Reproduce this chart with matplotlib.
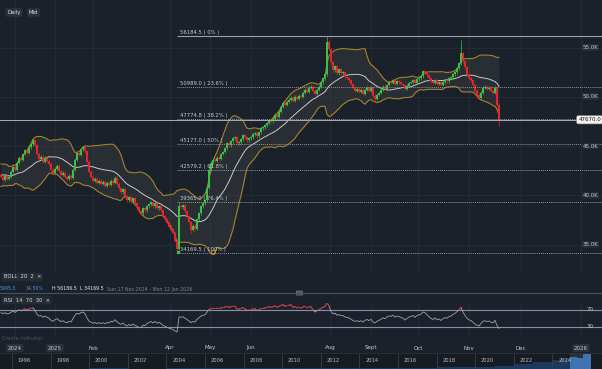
import numpy as np
import pandas as pd
import matplotlib
matplotlib.use("Agg")
import matplotlib.pyplot as plt
from matplotlib.lines import Line2D
from matplotlib.patches import FancyBboxPatch
from matplotlib.transforms import blended_transform_factory as blend

W, H = 602, 369
BG = "#1b212a"
GREEN = "#3cbf46"
RED = "#e5252c"
TXT = "#c5c9cf"

# closes before the visible window, only used to seed the bands and RSI
warmup_close = [41.2, 41.8, 42.6, 43.1, 42.4, 41.6, 41.0, 41.5, 42.3, 43.0,
                42.8, 42.0, 41.4, 41.9, 42.7, 42.2, 41.6, 41.9, 42.1]

# daily closes (thousands), Nov 2024 -> Nov 2025
close_k = [
    41.9, 41.6, 42.0, 41.7, 41.9, 42.4, 42.9, 42.6, 43.3, 43.8,
    43.6, 44.2, 44.6, 44.3, 44.9, 45.2, 45.6, 45.1, 44.2, 43.7,
    43.9, 43.4, 43.8, 43.5, 43.2, 42.6, 42.3, 42.7, 43.0, 42.5,
    42.1, 42.3, 41.9, 41.7, 42.0, 41.8, 42.6, 43.6, 44.3, 44.1,
    44.7, 44.9, 44.5, 43.4, 42.4, 41.9, 41.5, 41.7, 41.3, 41.5,
    41.2, 41.4, 41.0, 41.3, 41.1, 41.5, 41.3, 41.8, 41.2, 40.7,
    40.3, 40.6, 39.9, 39.5, 39.8, 39.4, 39.7, 39.2, 38.8, 38.4,
    38.2, 38.7, 38.5, 38.9, 39.1, 39.3, 38.9, 39.2, 38.7, 38.9,
    38.5, 37.9, 37.6, 37.2, 36.8, 36.5, 36.2, 35.4, 34.6, 38.9,
    38.8, 39.0, 38.4, 37.9, 37.3, 36.5, 36.9, 36.6, 37.6, 38.2,
    38.9, 39.2, 39.5, 40.8, 42.6, 43.3, 43.6, 43.5, 43.8, 43.7,
    44.2, 44.4, 44.8, 45.3, 45.1, 45.5, 45.8, 45.9, 45.3, 45.4,
    45.7, 46.1, 45.9, 45.6, 45.8, 45.9, 46.2, 46.3, 46.0, 46.4,
    46.8, 46.9, 47.1, 47.3, 47.6, 47.5, 47.8, 48.2, 48.0, 48.5,
    49.0, 49.4, 49.2, 49.5, 49.7, 49.9, 49.6, 50.0, 49.8, 50.1,
    50.0, 50.4, 50.7, 50.5, 50.9, 51.0, 50.6, 50.3, 50.7, 51.0,
    51.5, 51.9, 52.3, 55.6, 54.8, 53.5, 52.7, 53.1, 52.4, 52.8,
    52.4, 52.5, 52.0, 51.9, 51.7, 51.3, 50.9, 50.6, 50.8, 50.5,
    50.7, 50.3, 50.7, 50.9, 50.6, 50.9, 50.1, 49.8, 50.2, 50.4,
    50.7, 51.0, 50.8, 51.2, 51.5, 51.4, 51.7, 51.3, 51.6, 51.5,
    51.3, 51.2, 50.8, 51.1, 51.4, 51.5, 51.7, 51.4, 51.8, 51.9,
    52.1, 52.6, 52.5, 52.2, 51.9, 51.6, 51.4, 51.7, 51.3, 51.5,
    51.2, 51.5, 51.7, 51.6, 51.9, 52.0, 52.3, 52.5, 52.9, 53.4,
    54.4, 53.6, 53.0, 52.3, 51.9, 51.7, 51.2, 50.6, 50.2, 49.9,
    50.4, 50.9, 51.0, 50.8, 50.9, 50.6, 50.4, 50.9, 49.2, 47.67,
]

# candles whose wicks reach further than the usual small tail
wick_high = {163: 56184.5, 230: 55800.0, 89: 39300.0, 104: 43100.0}
wick_low = {88: 34169.5, 249: 47000.0, 95: 36200.0, 187: 49500.0}

fib_high = 56184.5
fib_low = 34169.5
fib_ratios = [0.0, 0.236, 0.382, 0.5, 0.618, 0.764, 1.0]
fib_labels = ["56184.5 ( 0% )", "50989.0 ( 23.6% )", "47774.8 ( 38.2% )",
              "45177.0 ( 50% )", "42579.2 ( 61.8% )", "39365.0 ( 76.4% )",
              "34169.5 ( 100% )"]
last_price = 47670.0

price_ticks = [35000, 40000, 45000, 50000, 55000]
price_tick_labels = ["35.0K", "40.0K", "45.0K", "50.0K", "55.0K"]

month_labels = ["2024", "2025", "Feb", "Apr", "May", "Jun", "Aug", "Sept",
                "Oct", "Nov", "Dec", "2026"]
month_pos = [7.0, 27.0, 46.0, 84.5, 104.5, 125.0, 164.5, 185.0, 208.5,
             234.0, 260.0, 290.0]
boxed_months = {"2024", "2025", "2026"}

nav_years = [1995, 1998, 2000, 2002, 2004, 2006, 2008, 2010, 2012, 2014,
             2016, 2018, 2019, 2020, 2021, 2022, 2023, 2024, 2024.5, 2025,
             2025.3, 2025.6, 2025.85, 2026]
nav_values = [1, 1.5, 2, 1.5, 2, 3, 2.5, 3, 3.5, 4.5,
              5, 6, 6.5, 7, 12, 16, 24, 33, 36, 42,
              38, 51, 53, 48]
nav_labels = list(range(1996, 2025, 2))

# ---- derived series
full = np.array(warmup_close + close_k) * 1000
nw = len(warmup_close)
closes = full[nw:]
opens = full[nw - 1:-1]
idx = np.arange(len(closes))
highs = np.maximum(opens, closes) + 150
lows = np.minimum(opens, closes) - 150
for k, v in wick_high.items():
    highs[k] = v
for k, v in wick_low.items():
    lows[k] = v

s = pd.Series(full)
bb_mid = s.rolling(20).mean().values[nw:]
bb_sd = s.rolling(20).std(ddof=0).values[nw:]
bb_up = bb_mid + 2 * bb_sd
bb_lo = bb_mid - 2 * bb_sd

d = s.diff()
ag = d.clip(lower=0).ewm(alpha=1 / 14, adjust=False).mean()
al = (-d.clip(upper=0)).ewm(alpha=1 / 14, adjust=False).mean()
rsi = (100 - 100 / (1 + ag / al)).values[nw:]

# ---- figure
fig = plt.figure(figsize=(W / 100, H / 100), dpi=100, facecolor=BG)


def fy(px):
    return 1 - px / H


ax = fig.add_axes([0, fy(272), 1, 272 / H])
ax.set_facecolor(BG)
ax.set_xlim(-0.5, 300.5)
ax.set_ylim(32230, 59820)
ax.set_axis_off()

for p in price_ticks:
    ax.axhline(p, color="#262d37", lw=0.6, zorder=0)
for m in month_pos:
    ax.axvline(m, color="#262d37", lw=0.6, zorder=0)

ax.fill_between(idx, bb_lo, bb_up, color="#3c3f43", alpha=0.45, lw=0, zorder=1)
ax.plot(idx, bb_up, color="#a5822f", lw=0.8, zorder=2)
ax.plot(idx, bb_lo, color="#a5822f", lw=0.8, zorder=2)
ax.plot(idx, bb_mid, color="#c9c9c9", lw=0.7, zorder=2)

cols = np.where(closes >= opens, GREEN, RED)
body_lo = np.minimum(opens, closes)
body_h = np.maximum(np.abs(closes - opens), 40)
ax.vlines(idx, lows, highs, colors=cols, lw=0.5, zorder=3)
ax.bar(idx, body_h, bottom=body_lo, width=0.75, color=cols, lw=0, zorder=4)

fib_levels = [fib_high - r * (fib_high - fib_low) for r in fib_ratios]
for lvl, lab, r in zip(fib_levels, fib_labels, fib_ratios):
    if r == 0.0:
        ax.hlines(lvl, 88, 300.5, color="#9aa0a8", lw=0.8, zorder=5)
    else:
        ax.hlines(lvl, 88, 300.5, color="#8d939c", lw=0.7,
                  linestyles=(0, (1, 1)), zorder=5)
    ax.text(89.5, lvl + 110, lab, fontsize=3.8, color=TXT, va="bottom",
            ha="left", zorder=6)
ax.plot([106], [fib_low + 60], marker="o", ms=3, mfc="none", mec="#d08a1e",
        mew=0.6, zorder=6)
ax.plot([88.5], [fib_low + 60], marker="s", ms=1.6, color=GREEN, zorder=6)

ax.axhline(last_price, color="#a8adb5", lw=0.7, zorder=5)

yt = blend(ax.transAxes, ax.transData)
for p, lab in zip(price_ticks, price_tick_labels):
    ax.text(0.981, p, lab, transform=yt, fontsize=4.0, color=TXT,
            ha="center", va="center", zorder=7,
            bbox=dict(boxstyle="square,pad=0.15", fc="#262c35", ec="none"))
ax.text(0.9795, last_price, "47670.0", transform=yt, fontsize=4.0,
        color="#111111", ha="center", va="center", zorder=8,
        bbox=dict(boxstyle="round,pad=0.3", fc="#f2f2f2", ec="#888888", lw=0.4))

# top buttons
for x0, lab in [(0.012, "Daily"), (0.048, "Mid")]:
    fig.text(x0, fy(12.5), lab, fontsize=3.8, color="#e0e3e8", va="center",
             bbox=dict(boxstyle="round,pad=0.35", fc="#2a313b", ec="none"))

# indicator headers
fig.text(0.006, fy(277), "BOLL  20  2  \u00d7", fontsize=3.8, color="#d7dae0",
         va="center", bbox=dict(boxstyle="round,pad=0.35", fc="#262c35", ec="none"))
fig.text(0.0, fy(289), "5995.5", fontsize=3.4, color="#4a90e2", va="center")
fig.text(25 / W, fy(289), "14.59%", fontsize=3.4, color="#4a90e2", va="center")
fig.text(52 / W, fy(289), "H 56186.5", fontsize=3.4, color="#e8eaee", va="center")
fig.text(80 / W, fy(289), "L 34169.5", fontsize=3.4, color="#e8eaee", va="center")
fig.text(107 / W, fy(289), "Sun 17 Nov 2024 - Mon 12 Jan 2026", fontsize=3.4,
         color="#7d838c", va="center")
fig.add_artist(Line2D([0, 1], [fy(293), fy(293)], transform=fig.transFigure,
                      color="#4a5059", lw=0.9))
fig.add_artist(FancyBboxPatch((296 / W, fy(295.5)), 7 / W, 5 / H,
                              boxstyle="round,pad=0", transform=fig.transFigure,
                              fc="#5a616b", ec="none"))
fig.text(0.006, fy(300), "RSI  14  70  30  \u00d7", fontsize=3.8, color="#d7dae0",
         va="center", bbox=dict(boxstyle="round,pad=0.35", fc="#262c35", ec="none"))

# RSI panel
axr = fig.add_axes([0, fy(337), 1, 34 / H])
axr.set_xlim(-0.5, 300.5)
axr.set_ylim(6.47, 86.47)
axr.set_axis_off()
for m in month_pos:
    axr.axvline(m, color="#262d37", lw=0.6, zorder=0)
axr.axhline(70, color="#7f93ad", lw=0.8)
axr.axhline(30, color="#7f93ad", lw=0.8)
axr.plot(idx, rsi, color="#a3a3a3", lw=0.6)
axr.plot(idx, np.where(rsi > 70, rsi, np.nan), color="#c0272d", lw=0.7)
rt = blend(axr.transAxes, axr.transData)
axr.text(0.981, 70, "70", transform=rt, fontsize=4.0, color=TXT,
         ha="center", va="center")
axr.text(0.981, 30, "30", transform=rt, fontsize=4.0, color=TXT,
         ha="center", va="center")

fig.text(0.004, fy(339), "Create indicator", fontsize=3.6, color="#4c535c",
         va="center")

# date labels
dt = blend(ax.transData, fig.transFigure)
for m, lab in zip(month_pos, month_labels):
    kw = {}
    if lab in boxed_months:
        kw["bbox"] = dict(boxstyle="round,pad=0.3", fc="#2b313a", ec="none")
    ax.text(m, fy(348), lab, transform=dt, fontsize=4.0, color=TXT,
            ha="center", va="center", clip_on=False, **kw)

# navigator
axn = fig.add_axes([0, 0, 1, 16 / H])
axn.set_facecolor("#171c23")
axn.set_xlim(1995.38, 2026.57)
axn.set_ylim(0, 56)
for sp in axn.spines.values():
    sp.set_visible(False)
axn.set_xticks([])
axn.set_yticks([])
axn.fill_between(nav_years, 0, nav_values, step="post", color="#1d3a5e", lw=0)
win = [(y, v) for y, v in zip(nav_years, nav_values) if y >= 2024.9]
axn.fill_between([2024.9] + [w[0] for w in win] + [2026.0],
                 0, [42] + [w[1] for w in win] + [48],
                 step="post", color="#2f6db5", lw=0)
axn.axvspan(2024.9, 2026.0, color="#8a94a3", alpha=0.18, lw=0)
for yr in nav_labels:
    axn.axvline(yr, color="#39404a", lw=0.6)
    axn.text(yr + 0.3, 28, str(yr), fontsize=3.7, color="#b9bec6",
             va="center", ha="left")
fig.add_artist(Line2D([0, 1], [fy(353), fy(353)], transform=fig.transFigure,
                      color="#2b323c", lw=0.6))

fig.savefig("out.png", dpi=100, facecolor=BG)
